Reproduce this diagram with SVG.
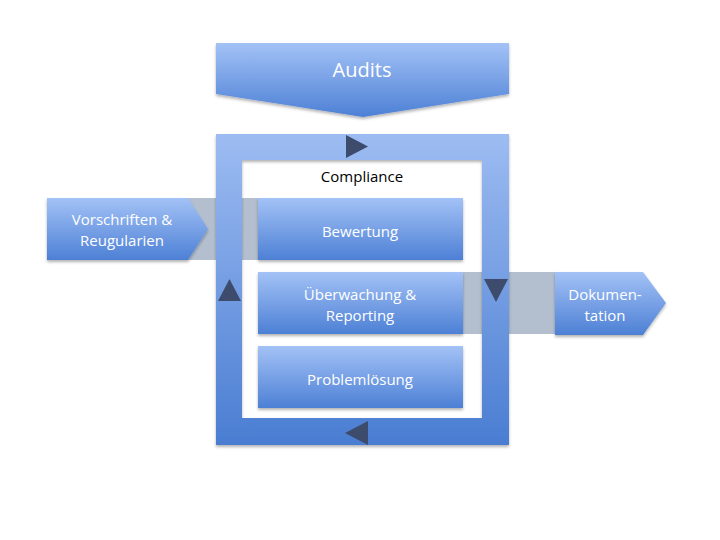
<svg xmlns="http://www.w3.org/2000/svg" width="720" height="540" viewBox="0 0 720 540">
<defs>
<linearGradient id="gBox" x1="0" y1="0" x2="0" y2="1">
<stop offset="0" stop-color="#a3c2f6"/>
<stop offset="1" stop-color="#4d80d5"/>
</linearGradient>
<linearGradient id="gFrame" x1="0" y1="0" x2="0" y2="1">
<stop offset="0" stop-color="#9dbcf2"/>
<stop offset="1" stop-color="#4a7dd2"/>
</linearGradient>
<filter id="sh" x="-10%" y="-10%" width="120%" height="130%">
<feDropShadow dx="0" dy="2" stdDeviation="1.5" flood-color="#000" flood-opacity="0.3"/>
</filter>
<style>
.box{fill:url(#gBox);filter:url(#sh);}
.band{fill:#b3bfcf;}
.tri{fill:#3d4c6c;}
.t{font-family:"Open Sans","Liberation Sans",sans-serif;fill:#ffffff;text-anchor:middle;font-size:15px;}
</style>
</defs>
<rect width="720" height="540" fill="#ffffff"/>
<g id="connectors">
<rect class="band" x="188" y="198" width="72" height="62"/>
<rect class="band" x="461" y="272" width="97" height="62"/>
</g>
<g id="frame">
<path d="M216,134 H509 V445 H216 Z M242,160 V418 H482 V160 Z" fill="url(#gFrame)" fill-rule="evenodd" filter="url(#sh)"/>
<polygon class="tri" points="346,135 368,146.5 346,158"/>
<polygon class="tri" points="368,421 345,433 368,445"/>
<polygon class="tri" points="218,301 229.5,279 241,301"/>
<polygon class="tri" points="484,279 508,279 496,302"/>
<text x="362" y="182" font-family="Open Sans, Liberation Sans, sans-serif" font-size="15" text-anchor="middle" fill="#000000">Compliance</text>
</g>
<g id="audits">
<polygon class="box" points="216,43 509,43 509,94 363,117 216,94"/>
<text class="t" x="362" y="77" style="font-size:20px">Audits</text>
</g>
<g id="vorschriften">
<polygon class="box" points="47,198 188,198 208,229 188,260 47,260"/>
<text class="t" x="122" y="225">Vorschriften &amp;</text>
<text class="t" x="122" y="246">Reugularien</text>
</g>
<g id="bewertung">
<rect class="box" x="258" y="198" width="205" height="62"/>
<text class="t" x="360" y="237">Bewertung</text>
</g>
<g id="ueberwachung">
<rect class="box" x="258" y="272" width="205" height="62"/>
<text class="t" x="360" y="300">Überwachung &amp;</text>
<text class="t" x="360" y="321">Reporting</text>
</g>
<g id="problemloesung">
<rect class="box" x="258" y="346" width="205" height="62"/>
<text class="t" x="360" y="385">Problemlösung</text>
</g>
<g id="dokumentation">
<polygon class="box" points="555,272 643,272 666,303 643,335 555,335"/>
<text class="t" x="605" y="300">Dokumen-</text>
<text class="t" x="605" y="321">tation</text>
</g>
</svg>
